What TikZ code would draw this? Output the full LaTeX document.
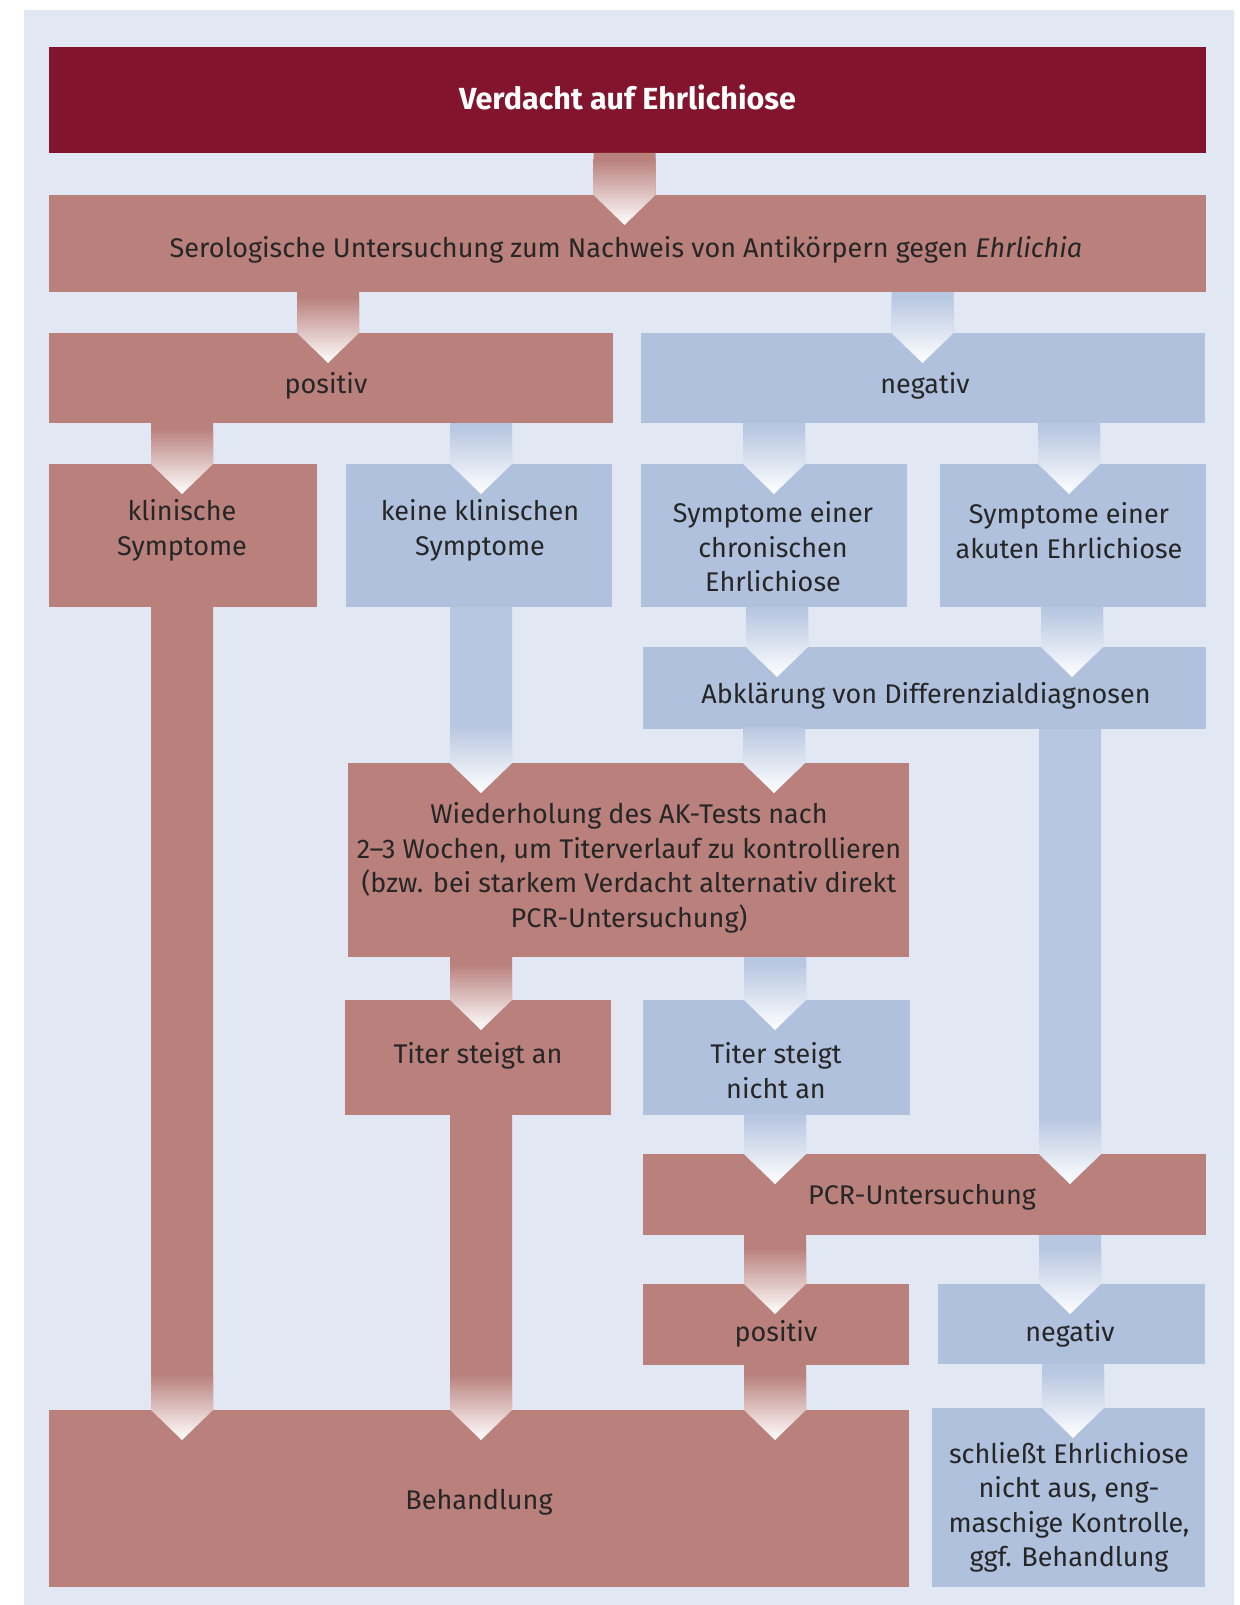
\documentclass[tikz,border=0pt]{standalone}
\usepackage{fontspec}
\setmainfont{Fira Sans}
\usetikzlibrary{calc}
\definecolor{bgc}{HTML}{E1E7F3}
\definecolor{titc}{HTML}{82152D}
\definecolor{redc}{HTML}{B9807C}
\definecolor{bluc}{HTML}{AFC1DD}
\definecolor{blua}{HTML}{B8C7E1}
\definecolor{txc}{HTML}{262626}
\newcommand\bx[6]{\node[#6, inner sep=0pt, outer sep=0pt, minimum width={(#4)-(#2)}, minimum height={(#5)-(#3)}] (#1) at ({((#2)+(#4))/2},{-((#3)+(#5))/2}) {};}
\newcommand\arr[4]{%
 \fill[#4] let \p1=(#1.south), \p2=(#2.north) in
   ({#3-31},\y1) -- ({#3+31},\y1) -- ({#3+31},\y2) -- (#3,{\y2-30}) -- ({#3-31},\y2) -- cycle;
 \shade[top color=#4, bottom color=white] let \p1=(#1.south), \p2=(#2.north) in
   ({#3-31},{\y2+36}) -- ({#3+31},{\y2+36}) -- ({#3+31},\y2) -- (#3,{\y2-30}) -- ({#3-31},\y2) -- cycle;
}
\begin{document}
\begin{tikzpicture}[x=1pt,y=1pt,
  rbox/.style={rectangle, fill=redc, draw=none},
  bbox/.style={rectangle, fill=bluc, draw=none},
  tbox/.style={rectangle, fill=titc, draw=none},
  txt/.style={text=txc, align=center, inner sep=0pt, font=\fontsize{27}{34.5}\selectfont}]
\useasboundingbox (0,0) rectangle (1239,-1605);
\fill[bgc] (24,-10) rectangle (1234,-1605);
% boxes
\bx{title}{49}{47}{1206}{153}{tbox}
\bx{sero}{49}{195}{1206}{292}{rbox}
\bx{posA}{49}{333}{613}{423}{rbox}
\bx{negA}{641}{333}{1205}{423}{bbox}
\bx{klin}{49}{464}{317}{607}{rbox}
\bx{keine}{346}{464}{612}{607}{bbox}
\bx{chron}{641}{464}{907}{607}{bbox}
\bx{akut}{940}{464}{1206}{607}{bbox}
\bx{abkl}{643}{647}{1206}{729}{bbox}
\bx{wied}{348}{763}{909}{957}{rbox}
\bx{titA}{345}{1000}{611}{1115}{rbox}
\bx{titN}{643}{1000}{910}{1115}{bbox}
\bx{pcr}{643}{1154}{1206}{1235}{rbox}
\bx{posB}{643}{1284}{909}{1365}{rbox}
\bx{negB}{938}{1284}{1205}{1364}{bbox}
\bx{beh}{49}{1410}{909}{1587}{rbox}
\bx{schl}{932}{1408}{1205}{1587}{bbox}
% arrows
\arr{title}{sero}{624.5}{redc}
\arr{sero}{posA}{328}{redc}
\arr{sero}{negA}{922.5}{blua}
\arr{posA}{klin}{182}{redc}
\arr{posA}{keine}{481}{blua}
\arr{negA}{chron}{774}{blua}
\arr{negA}{akut}{1069}{blua}
\arr{chron}{abkl}{777}{blua}
\arr{akut}{abkl}{1072}{blua}
\arr{abkl}{wied}{774}{blua}
\arr{keine}{wied}{481}{blua}
\arr{wied}{titA}{481}{redc}
\arr{wied}{titN}{775}{blua}
\arr{titN}{pcr}{775}{blua}
\arr{abkl}{pcr}{1070}{blua}
\arr{pcr}{posB}{775}{redc}
\arr{pcr}{negB}{1070}{blua}
\arr{klin}{beh}{182}{redc}
\arr{titA}{beh}{481}{redc}
\arr{posB}{beh}{775}{redc}
\arr{negB}{schl}{1073}{blua}
% texts
\node[txt, text=white, font=\bfseries\fontsize{30.5}{36}\selectfont] (title-t) at (627.5,-97) {Verdacht auf Ehrlichiose};
\node[txt] (sero-t) at (626,-250) {Serologische Untersuchung zum Nachweis von Antikörpern gegen \textit{Ehrlichia}};
\node[txt] (posA-t) at (326,-386) {positiv};
\node[txt] (negA-t) at (925,-386) {negativ};
\node[txt] (klin-t) at (182,-530.5) {klinische\\Symptome};
\node[txt] (keine-t) at (480,-530.5) {keine klinischen\\Symptome};
\node[txt] (chron-t) at (773,-547) {Symptome einer\\chronischen\\Ehrlichiose};
\node[txt] (akut-t) at (1069,-530.5) {Symptome einer\\akuten Ehrlichiose};
\node[txt] (abkl-t) at (926,-696) {Abklärung von Differenzialdiagnosen};
\node[txt] (wied-t) at (629,-868) {Wiederholung des AK-Tests nach\\2–3 Wochen, um Titerverlauf zu kontrollieren\\(bzw. bei starkem Verdacht alternativ direkt\\PCR-Untersuchung)};
\node[txt] (titA-t) at (478,-1055.5) {Titer steigt an};
\node[txt] (titN-t) at (776,-1070.5) {Titer steigt\\nicht an};
\node[txt] (pcr-t) at (922,-1197) {PCR-Untersuchung};
\node[txt] (posB-t) at (776,-1334) {positiv};
\node[txt] (negB-t) at (1070,-1334) {negativ};
\node[txt] (beh-t) at (479,-1502.5) {Behandlung};
\node[txt] (schl-t) at (1069,-1507.5) {schließt Ehrlichiose\\nicht aus, eng-\\maschige Kontrolle,\\ggf. Behandlung};
\end{tikzpicture}
\end{document}
